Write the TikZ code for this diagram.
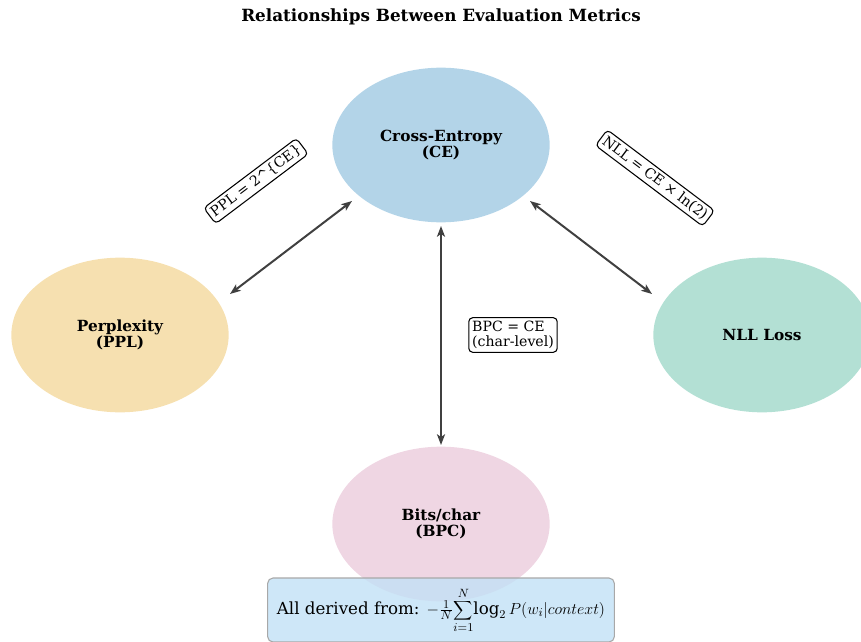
\documentclass[tikz,border=0pt]{standalone}
\usepackage{fontspec}
\setmainfont{DejaVu Serif}
\usetikzlibrary{shapes.geometric,arrows.meta,calc}

\definecolor{ceblue}{HTML}{B3D4E8}
\definecolor{pplsand}{HTML}{F6E0B0}
\definecolor{nllmint}{HTML}{B3E0D4}
\definecolor{bpcpink}{HTML}{EFD6E3}
\definecolor{boxblue}{HTML}{C2E1F6}
\definecolor{boxedge}{HTML}{A8A8A8}
\definecolor{linkgray}{HTML}{404040}

\tikzset{
  metric/.style={ellipse, minimum width=163pt, minimum height=116pt,
    inner sep=0pt, font=\fontsize{11.5}{12}\selectfont\bfseries, align=center},
  link/.style={draw=linkgray, line width=1.5pt,
    {Stealth[length=8pt,width=6pt,inset=2pt]}-{Stealth[length=8pt,width=6pt,inset=2pt]}},
  relation/.style={draw=black, fill=white, rounded corners=3pt, line width=0.8pt,
    inner sep=2.5pt, font=\fontsize{10.6}{11.5}\selectfont, align=left},
}

\begin{document}
\begin{tikzpicture}[x=0.75pt, y=-0.75pt]
  \useasboundingbox (0,0) rectangle (861,642);
  \clip (0,0) rectangle (861,642);

  % title
  \node[font=\fontsize{12.6}{14}\selectfont\bfseries] (title) at (441,17)
    {Relationships Between Evaluation Metrics};

  % metric ellipses
  \node[metric, fill=ceblue]   (ce)  at (441,145) {Cross-Entropy\\(CE)};
  \node[metric, fill=pplsand]  (ppl) at (120,335) {Perplexity\\(PPL)};
  \node[metric, fill=nllmint]  (nll) at (762,335) {NLL Loss};
  \node[metric, fill=bpcpink]  (bpc) at (441,524) {Bits/char\\(BPC)};

  % arrow end points just outside the ellipses
  \coordinate (ce-w) at ($(ce)+(-89,56)$);
  \coordinate (ce-e) at ($(ce)+(89,56)$);
  \coordinate (ce-s) at ($(ce)+(0,81)$);
  \coordinate (ppl-ne) at ($(ppl)+(110,-41)$);
  \coordinate (nll-nw) at ($(nll)+(-110,-41)$);
  \coordinate (bpc-n) at ($(bpc)+(0,-79)$);

  % relations
  \draw[link] (ce-w) -- (ppl-ne);
  \draw[link] (ce-e) -- (nll-nw);
  \draw[link] (ce-s) -- (bpc-n);

  \node[relation, rotate=37] (lppl) at (256,181) {PPL = 2\^{}\{CE\}};
  \node[relation, rotate=-37] (lnll) at (655,178) {NLL = CE × ln(2)};
  \node[relation] (lbpc) at (513,335) {BPC = CE\\(char-level)};

  % common formula
  \node[draw=boxedge, fill=boxblue, fill opacity=0.8, text opacity=1,
        rounded corners=4pt, line width=0.8pt, minimum width=260pt,
        minimum height=48pt, inner xsep=4pt, font=\fontsize{12.5}{14}\selectfont]
    (formula) at (441,610)
    {All derived from: $\displaystyle -{\textstyle\frac{1}{N}}\!\sum_{i=1}^{N}\!\log_2 P(w_i|context)$};
\end{tikzpicture}
\end{document}
